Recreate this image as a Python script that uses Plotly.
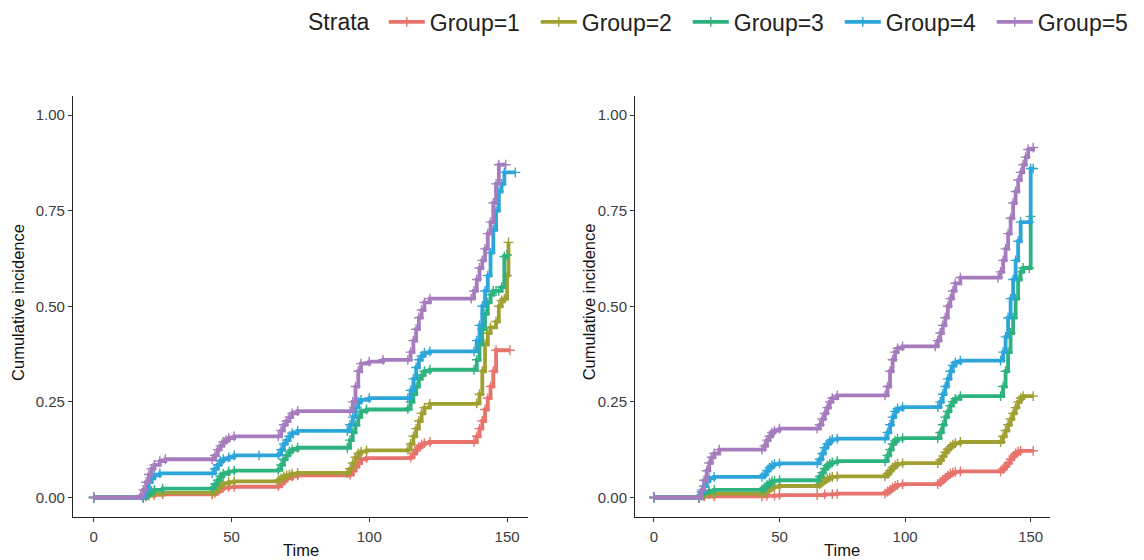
import plotly.graph_objects as go

# ---------------- data ----------------
groups = ["Group=1", "Group=2", "Group=3", "Group=4", "Group=5"]
colors = ["#E8736C", "#A0A032", "#2DB37F", "#2CA6DA", "#A57DBE"]

# Left panel
L1_t = [0, 18, 19, 20, 22, 25, 43, 44, 45, 46, 47, 49, 51, 67, 68, 69, 70, 72, 74, 93, 94, 95, 96, 97, 99,
        115, 116, 117, 118, 119, 120, 122, 138, 139, 140, 141, 142, 143, 144, 145, 146, 151]
L1_v = [0, 0, 0.003, 0.005, 0.007, 0.008, 0.008, 0.012, 0.017, 0.022, 0.025, 0.027, 0.028, 0.03, 0.037, 0.045,
        0.05, 0.055, 0.058, 0.06, 0.07, 0.08, 0.09, 0.1, 0.103, 0.105, 0.115, 0.125, 0.132, 0.138, 0.142, 0.145,
        0.145, 0.16, 0.18, 0.20, 0.23, 0.26, 0.29, 0.33, 0.385, 0.385]

L2_t = [0, 18, 19, 20, 22, 25, 43, 44, 45, 46, 47, 49, 51, 67, 68, 69, 70, 71, 72, 74, 92, 93, 94, 95, 96, 97, 99,
        114, 115, 116, 117, 118, 119, 120, 122, 139, 140, 141, 142, 143, 144, 146, 147, 148, 149, 150, 150.5]
L2_v = [0, 0, 0.004, 0.007, 0.01, 0.012, 0.012, 0.017, 0.025, 0.032, 0.037, 0.04, 0.042, 0.045, 0.05, 0.055,
        0.058, 0.06, 0.062, 0.064, 0.064, 0.075, 0.09, 0.105, 0.115, 0.12, 0.123, 0.125, 0.14, 0.16, 0.18, 0.2,
        0.22, 0.235, 0.245, 0.246, 0.27, 0.33, 0.40, 0.43, 0.445, 0.46, 0.50, 0.515, 0.52, 0.58, 0.667]

L3_t = [0, 18, 19, 20, 21, 22, 25, 43, 44, 45, 46, 47, 49, 51, 67, 68, 69, 70, 71, 72, 74, 92, 93, 94, 95, 96, 97,
        99, 114, 115, 116, 117, 118, 119, 120, 122, 138, 139, 140, 141, 142, 143, 144, 145, 146, 147, 148, 149, 150]
L3_v = [0, 0, 0.005, 0.012, 0.017, 0.02, 0.023, 0.025, 0.035, 0.045, 0.055, 0.062, 0.068, 0.07, 0.072, 0.085, 0.10,
        0.11, 0.12, 0.125, 0.13, 0.13, 0.15, 0.17, 0.19, 0.21, 0.225, 0.23, 0.232, 0.25, 0.27, 0.29, 0.31, 0.32,
        0.33, 0.334, 0.334, 0.36, 0.40, 0.44, 0.48, 0.51, 0.53, 0.54, 0.54, 0.54, 0.55, 0.63, 0.634]

L4_t = [0, 18, 19, 20, 21, 22, 24, 43, 44, 45, 46, 47, 49, 51, 60, 67, 68, 69, 70, 71, 72, 74, 92, 93, 94, 95, 96,
        97, 100, 114, 115, 116, 117, 118, 119, 120, 122, 138, 139, 140, 141, 142, 143, 144, 145, 146, 147, 148,
        149, 153]
L4_v = [0, 0, 0.02, 0.04, 0.05, 0.058, 0.063, 0.063, 0.075, 0.085, 0.095, 0.10, 0.105, 0.11, 0.11, 0.112, 0.125,
        0.14, 0.15, 0.16, 0.168, 0.174, 0.174, 0.19, 0.21, 0.235, 0.25, 0.255, 0.26, 0.26, 0.28, 0.31, 0.34, 0.36,
        0.37, 0.378, 0.382, 0.382, 0.41, 0.45, 0.50, 0.54, 0.58, 0.64, 0.70, 0.75, 0.80, 0.82, 0.85, 0.85]

L5_t = [0, 17, 18, 19, 20, 21, 22, 24, 26, 43, 44, 45, 46, 47, 48, 49, 51, 67, 68, 69, 70, 71, 72, 74, 93, 94, 95,
        96, 97, 100, 105, 114, 115, 116, 117, 118, 119, 120, 122, 137, 138, 139, 140, 141, 142, 143, 144, 145,
        146, 147, 149.5]
L5_v = [0, 0.005, 0.02, 0.04, 0.06, 0.075, 0.085, 0.095, 0.10, 0.10, 0.11, 0.125, 0.135, 0.145, 0.15, 0.155, 0.16,
        0.16, 0.175, 0.19, 0.2, 0.21, 0.22, 0.226, 0.226, 0.25, 0.29, 0.33, 0.35, 0.355, 0.36, 0.36, 0.38, 0.41,
        0.44, 0.47, 0.49, 0.51, 0.52, 0.52, 0.54, 0.57, 0.60, 0.62, 0.65, 0.69, 0.72, 0.77, 0.82, 0.87, 0.87]

# Right panel
R1_t = [0, 18, 20, 24, 43, 45, 48, 50, 65, 68, 71, 73, 92, 93, 94, 95, 96, 97, 99, 113, 114, 115, 116, 117, 118,
        119, 120, 122, 138, 139, 140, 141, 142, 143, 144, 145, 146, 151]
R1_v = [0, 0, 0.002, 0.003, 0.003, 0.004, 0.005, 0.006, 0.006, 0.008, 0.009, 0.01, 0.01, 0.015, 0.02, 0.025, 0.03,
        0.033, 0.035, 0.035, 0.04, 0.046, 0.052, 0.057, 0.062, 0.065, 0.067, 0.068, 0.068, 0.075, 0.082, 0.09,
        0.10, 0.108, 0.115, 0.12, 0.122, 0.122]

R2_t = [0, 18, 19, 20, 22, 24, 43, 44, 45, 46, 47, 48, 50, 65, 66, 67, 68, 69, 70, 71, 73, 92, 93, 94, 95, 96, 97,
        99, 113, 114, 115, 116, 117, 118, 119, 120, 122, 138, 139, 140, 141, 142, 143, 144, 145, 146, 147, 151]
R2_v = [0, 0, 0.004, 0.007, 0.009, 0.01, 0.01, 0.014, 0.018, 0.022, 0.026, 0.028, 0.03, 0.03, 0.035, 0.04, 0.045,
        0.049, 0.052, 0.054, 0.055, 0.055, 0.062, 0.07, 0.078, 0.084, 0.088, 0.09, 0.09, 0.098, 0.108, 0.118,
        0.126, 0.133, 0.138, 0.142, 0.145, 0.145, 0.16, 0.175, 0.19, 0.205, 0.22, 0.235, 0.25, 0.26, 0.265, 0.265]

R3_t = [0, 18, 19, 20, 22, 24, 43, 44, 45, 46, 47, 48, 50, 65, 66, 67, 68, 69, 70, 71, 73, 92, 93, 94, 95, 96, 97,
        99, 113, 114, 115, 116, 117, 118, 119, 120, 122, 138, 139, 140, 141, 142, 143, 144, 145, 146, 147, 149.5,
        150]
R3_v = [0, 0, 0.008, 0.014, 0.018, 0.02, 0.02, 0.026, 0.032, 0.038, 0.042, 0.044, 0.045, 0.045, 0.055, 0.065,
        0.075, 0.083, 0.088, 0.092, 0.095, 0.095, 0.11, 0.125, 0.14, 0.148, 0.153, 0.155, 0.155, 0.17, 0.19, 0.21,
        0.225, 0.24, 0.25, 0.258, 0.265, 0.265, 0.29, 0.33, 0.38, 0.43, 0.47, 0.52, 0.57, 0.59, 0.60, 0.60, 0.735]

R4_t = [0, 18, 19, 20, 21, 22, 24, 43, 44, 45, 46, 47, 48, 50, 65, 66, 67, 68, 69, 70, 71, 73, 92, 93, 94, 95, 96,
        97, 99, 113, 114, 115, 116, 117, 118, 119, 120, 122, 138, 139, 140, 141, 142, 143, 144, 145, 146, 149.5, 150,
        151]
R4_v = [0, 0, 0.015, 0.03, 0.042, 0.05, 0.054, 0.054, 0.06, 0.07, 0.078, 0.084, 0.087, 0.089, 0.089, 0.1, 0.115,
        0.13, 0.14, 0.148, 0.152, 0.154, 0.154, 0.17, 0.19, 0.21, 0.225, 0.232, 0.236, 0.236, 0.25, 0.27, 0.29,
        0.31, 0.33, 0.345, 0.353, 0.358, 0.358, 0.38, 0.42, 0.47, 0.52, 0.57, 0.62, 0.67, 0.72, 0.72, 0.86, 0.86]

R5_t = [0, 18, 19, 20, 21, 22, 23, 24, 26, 43, 44, 45, 46, 47, 48, 50, 65, 66, 67, 68, 69, 70, 71, 73, 92, 93, 94,
        95, 96, 97, 99, 112, 113, 114, 115, 116, 117, 118, 119, 120, 122, 137, 138, 139, 140, 141, 142, 143, 144,
        145, 146, 147, 148, 149, 151]
R5_v = [0, 0, 0.02, 0.045, 0.07, 0.09, 0.105, 0.115, 0.125, 0.125, 0.135, 0.15, 0.16, 0.17, 0.175, 0.18, 0.18, 0.19,
        0.205, 0.22, 0.235, 0.25, 0.26, 0.267, 0.267, 0.29, 0.33, 0.36, 0.38, 0.39, 0.395, 0.395, 0.41, 0.43, 0.45,
        0.47, 0.5, 0.52, 0.54, 0.56, 0.575, 0.575, 0.59, 0.62, 0.65, 0.69, 0.73, 0.77, 0.80, 0.83, 0.85, 0.87,
        0.89, 0.91, 0.915]

x_ticks = [0, 50, 100, 150]
y_ticks = [0.0, 0.25, 0.5, 0.75, 1.0]
y_ticktext = ["0.00", "0.25", "0.50", "0.75", "1.00"]

left_series = [(L1_t, L1_v), (L2_t, L2_v), (L3_t, L3_v), (L4_t, L4_v), (L5_t, L5_v)]
right_series = [(R1_t, R1_v), (R2_t, R2_v), (R3_t, R3_v), (R4_t, R4_v), (R5_t, R5_v)]

# ---------------- figure ----------------
FONT = "Liberation Sans, Arial, sans-serif"
W, H = 1144, 560
fig = go.Figure()

for panel, series in (("", left_series), ("2", right_series)):
    for i, (t, v) in enumerate(series):
        fig.add_trace(go.Scatter(
            x=t, y=v, mode="lines+markers", line_shape="hv",
            line=dict(color=colors[i], width=3.8),
            marker=dict(symbol="cross-thin", size=7, line=dict(color=colors[i], width=1.4)),
            name=groups[i], legendgroup=groups[i], showlegend=(panel == ""),
            xaxis="x" + panel, yaxis="y" + panel, hoverinfo="skip",
        ))

# geometry (px -> paper)
def fx(px):
    return px / W

def fy(py):
    return 1 - py / H

axis_common = dict(
    showgrid=False, zeroline=False, showline=True, linecolor="#222222", linewidth=1.2,
    ticks="outside", ticklen=4, tickcolor="#333333", tickwidth=1,
    tickfont=dict(family=FONT, size=15, color="#3c3c3c"),
)

fig.update_layout(
    width=W, height=H,
    margin=dict(l=0, r=0, t=0, b=0),
    paper_bgcolor="white", plot_bgcolor="white",
    font=dict(family=FONT, color="#222222"),
    xaxis=dict(domain=[fx(73.5), fx(531.0)], range=[-7.5, 157.5], tickvals=x_ticks, anchor="y",
               ticklabelstandoff=2, **axis_common),
    yaxis=dict(domain=[fy(516.6), fy(95.9)], range=[-0.05, 1.05], tickvals=y_ticks, ticktext=y_ticktext,
               anchor="x", **axis_common),
    xaxis2=dict(domain=[fx(639.0), fx(1056.0)], range=[-7.5, 157.5], tickvals=x_ticks, anchor="y2",
                ticklabelstandoff=2, **axis_common),
    yaxis2=dict(domain=[fy(516.6), fy(95.9)], range=[-0.05, 1.05], tickvals=y_ticks, ticktext=y_ticktext,
                anchor="x2", **axis_common),
    legend=dict(
        orientation="h", x=fx(308), xanchor="left", y=fy(22), yanchor="middle",
        title=dict(text="Strata\u00a0", font=dict(family=FONT, size=23, color="#222222")),
        font=dict(family=FONT, size=23, color="#222222"),
        bgcolor="rgba(0,0,0,0)", itemwidth=36, entrywidth=101,
    ),
    showlegend=True,
)

title_font = dict(family=FONT, size=16.5, color="#111111")
annotations = [
    dict(text="Cumulative incidence", x=fx(18), y=fy(302), textangle=-90),
    dict(text="Cumulative incidence", x=fx(593), y=fy(302), textangle=-90),
    dict(text="Time", x=fx(302.5), y=fy(550)),
    dict(text="Time", x=fx(847.5), y=fy(550)),
]
for a in annotations:
    fig.add_annotation(xref="paper", yref="paper", showarrow=False, xanchor="center", yanchor="middle",
                       font=title_font, **a)

fig.write_html("out.html", config={"displayModeBar": False},
               post_script="document.body.style.margin='0px';")
